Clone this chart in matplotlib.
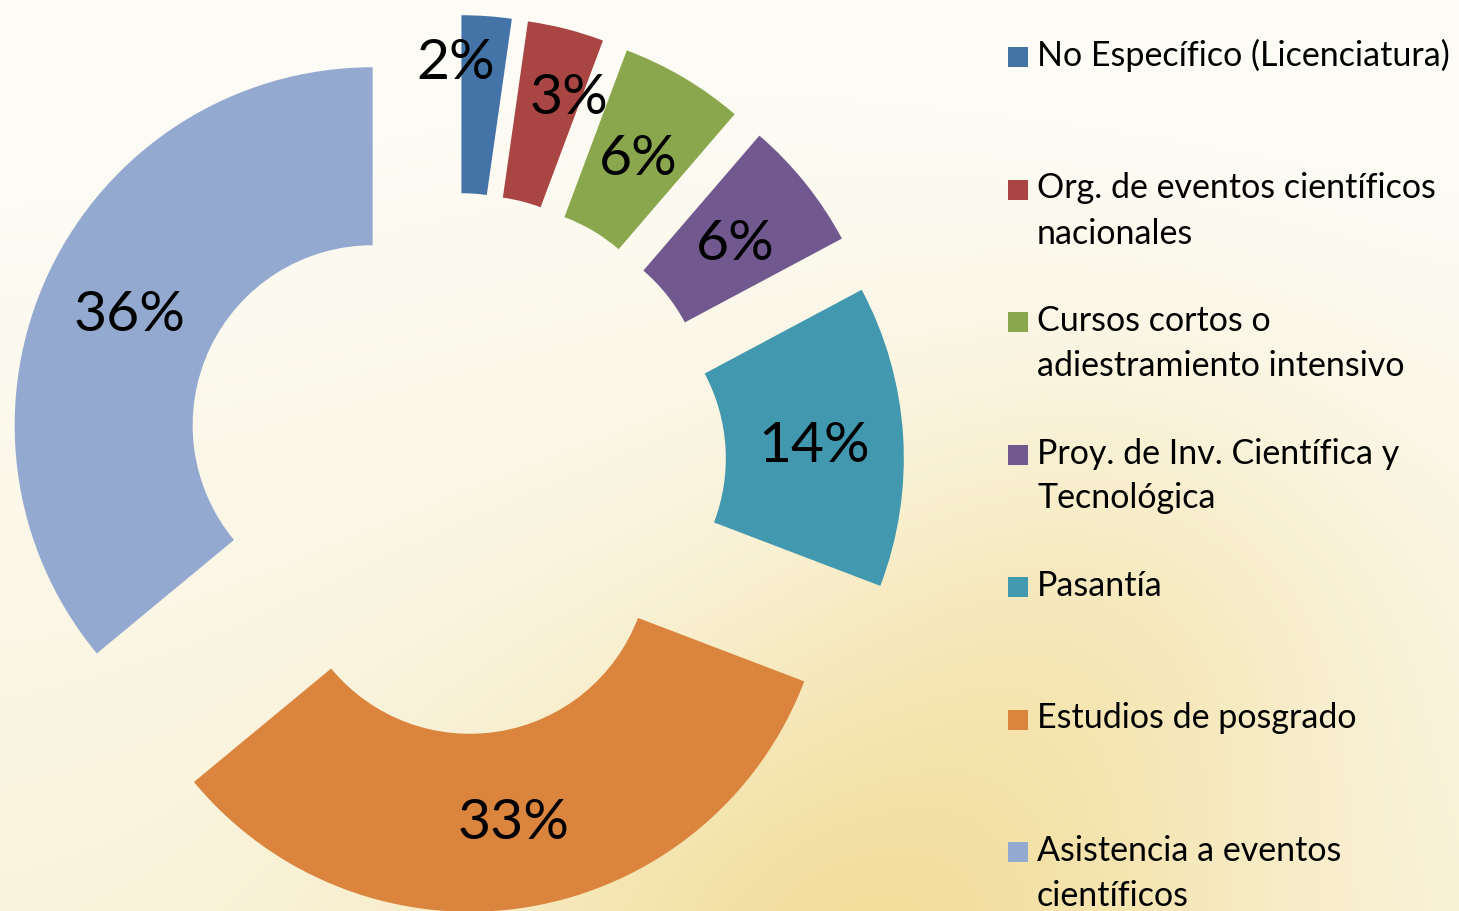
import numpy as np
import matplotlib.pyplot as plt
from matplotlib.patches import Rectangle

# chart data (shares in %)
categories = ['No Específico (Licenciatura)',
              'Org. de eventos científicos\nnacionales',
              'Cursos cortos o\nadiestramiento intensivo',
              'Proy. de Inv. Científica y\nTecnológica',
              'Pasantía',
              'Estudios de posgrado',
              'Asistencia a eventos\ncientíficos']
values = [2.25, 3.45, 5.6, 5.9, 13.6, 33.2, 36.0]
colors = ['#4473A8', '#A94644', '#8AA74E', '#71588F', '#4298AF', '#DB843D', '#94A9D0']

W, H = 1459, 911
pctFont = ['Lato', 'DejaVu Sans']
legFont = ['Lato', 'DejaVu Sans']

fig = plt.figure(figsize=(W / 100, H / 100), dpi=100)
ax = fig.add_axes([0, 0, 1, 1])

# cream / yellow background, roughly like the lotus picture behind the chart
yy, xx = np.mgrid[0:H, 0:W].astype(float)
light = np.array([253, 252, 246]) / 255.0
cream = np.array([250, 243, 218]) / 255.0
gold = np.array([236, 206, 110]) / 255.0
wCream = np.clip(yy / H * 1.1 + 0.15 * np.exp(-((xx - 700) / 500) ** 2) - 0.2, 0, 1)
wGold = 0.55 * np.exp(-(((xx - 850) / 380) ** 2 + ((yy - 980) / 320) ** 2))
wGold += 0.25 * np.exp(-(((xx - 1100) / 300) ** 2 + ((yy - 620) / 260) ** 2))
bg = light * (1 - wCream[..., None]) + cream * wCream[..., None]
bg = bg * (1 - wGold[..., None]) + gold * wGold[..., None]
ax.imshow(bg, extent=(0, W, 0, H), origin='upper', aspect='auto', zorder=0)

wedges, texts, autotexts = ax.pie(values, colors=colors, startangle=90, counterclock=False,
                                  radius=358, center=(455, 447), explode=[91] * len(values),
                                  wedgeprops=dict(width=178, linewidth=0),
                                  autopct='%1.0f%%', pctdistance=0.75,
                                  textprops=dict(fontsize=41, family=pctFont, color='black'))

# the two thin slices have their labels pushed outwards
labelNudge = {0: (-25, 47), 1: (25, 22)}
for i, t in enumerate(autotexts):
    t.set_va('center_baseline')
    if i in labelNudge:
        x, y = t.get_position()
        dx, dy = labelNudge[i]
        t.set_position((x + dx, y + dy))

# legend drawn by hand, one slot per category
for i, (name, col) in enumerate(zip(categories, colors)):
    yc = H - (57 + 132.5 * i)
    ax.add_patch(Rectangle((1008, yc - 10), 20, 20, facecolor=col, edgecolor='none', zorder=3))
    for j, line in enumerate(name.split('\n')):
        ax.text(1037, yc - 9 - 45 * j, line, fontsize=24.5, family=legFont,
                va='baseline', ha='left', color='black', zorder=3)

ax.set_xlim(0, W)
ax.set_ylim(0, H)
ax.axis('off')
fig.savefig('out.png', dpi=100)
